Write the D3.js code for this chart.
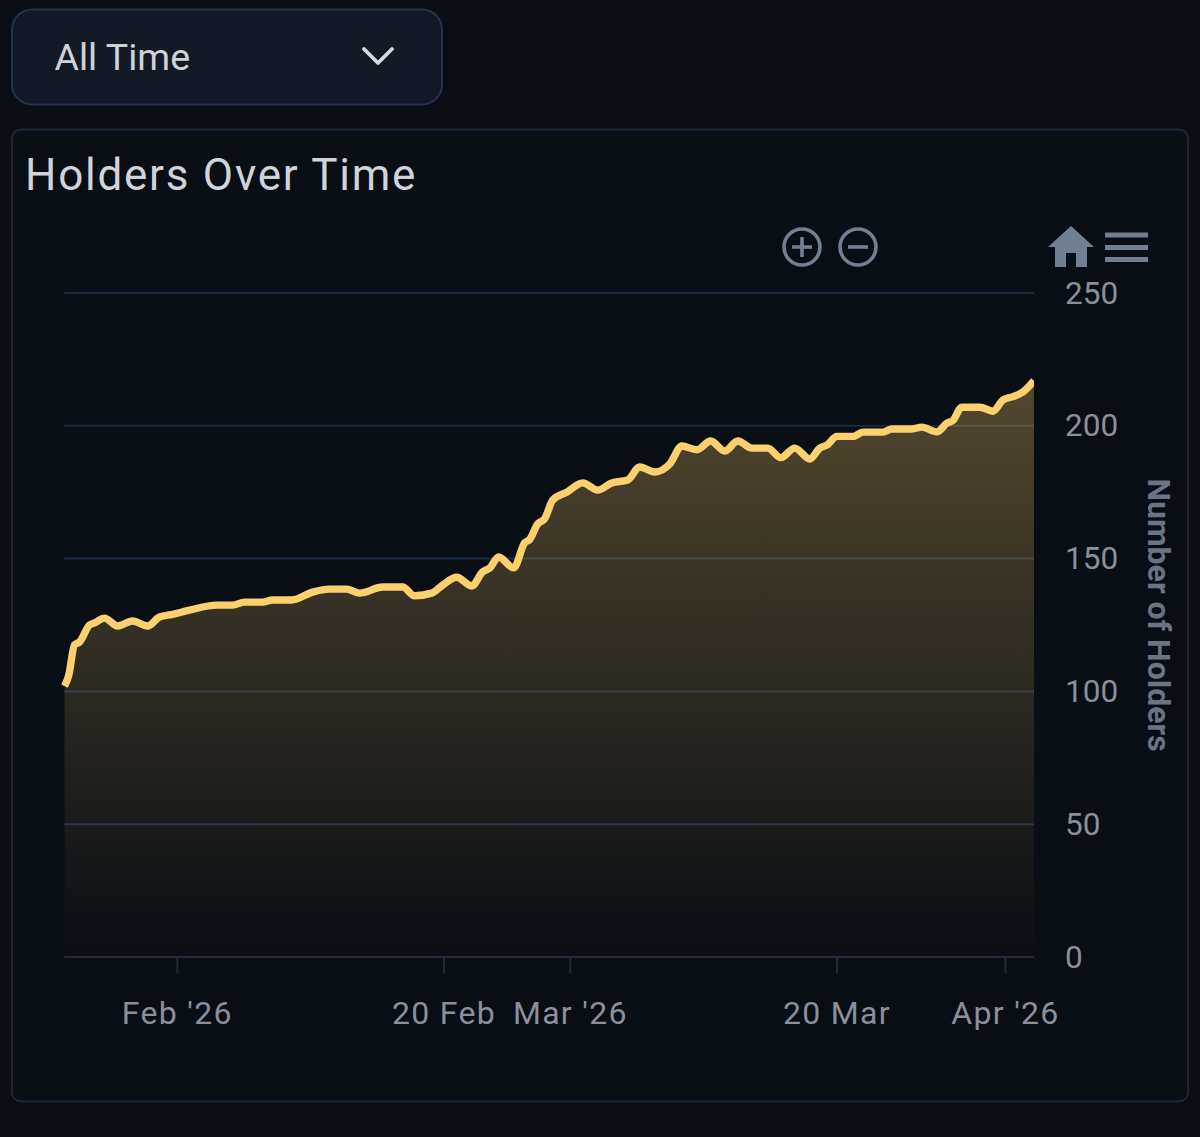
<!DOCTYPE html>
<html>
<head>
<meta charset="utf-8">
<script src="https://cdn.jsdelivr.net/npm/d3@7"></script>
<style>
html,body{margin:0;padding:0;background:#0a0d14;}
svg{display:block;font-family:Roboto,sans-serif;}
</style>
</head>
<body>
<svg id="c" width="1200" height="1137"></svg>
<script>
const startDate = "2026-01-24";
const endDaysAfterStart = 69.07;
const daysAfterStart = [0,.3,.71,1.07,1.78,2.14,2.85,3.78,4.85,5.92,6.77,7.7,8.91,10.83,11.97,12.83,14.11,14.83,16.18,17.68,18.89,20.1,21.03,22.67,24.09,24.95,26.16,26.94,27.94,29.01,29.79,30.29,30.93,32,32.79,33.14,33.71,34.21,34.78,35.78,36.92,37.99,38.99,40.13,40.98,42.05,43.12,43.98,45.05,46.04,47.04,47.97,48.97,50.11,51.03,52.03,53.1,53.81,54.31,55.03,56.17,56.88,58.3,58.95,60.37,61.08,62.15,62.87,63.29,63.93,65.22,66.15,66.86,67.57,68.28,69.07];
const holders = [102,106,117.5,118.6,125,125.8,127.6,124.6,126.5,124.6,128,129,130.6,132.5,132.5,133.6,133.6,134.4,134.4,137.4,138.5,138.5,137,139.3,139.3,136,137,140,143,139.7,145,146.4,150.6,146.5,156,157.2,163,165,172,175,178.5,175.8,178.5,179.6,184.5,182.6,185.6,192.4,191,194.3,190.5,194.3,191.6,191.6,188,191.6,187.5,191.6,192.7,196,196,197.6,197.6,198.8,198.8,199.5,197.7,201,202,207,207,205.5,209.7,211,212.7,217];
const yTicks = [0,50,100,150,200,250];
const xTickDates = ["2026-02-01","2026-02-20","2026-03-01","2026-03-20","2026-04-01"];
const xTickLabels = ["Feb '26","20 Feb","Mar '26","20 Mar","Apr '26"];
const titleText = "Holders Over Time";
const rangeText = "All Time";
const yAxisTitle = "Number of Holders";

const svg = d3.select("#c");
const DAY = 864e5;
const start = new Date(startDate + "T00:00:00Z");
const dates = daysAfterStart.map(d => new Date(+start + d * DAY));
const points = dates.map((d, i) => ({date: d, value: holders[i]}));

const x = d3.scaleUtc().domain([start, new Date(+start + endDaysAfterStart * DAY)]).range([64.5, 1034]);
const y = d3.scaleLinear().domain([0, 250]).range([957, 293]);

// Dropdown
svg.append("rect").attr("x",12).attr("y",9.5).attr("width",430).attr("height",95).attr("rx",20)
  .attr("fill","#131a26").attr("stroke","#243352").attr("stroke-width",2);
svg.append("text").attr("x",54.5).attr("y",70).attr("font-size",37.5).attr("fill","#cfd2d9").text(rangeText);
svg.append("path").attr("d","M364 49L378 63L392 49").attr("fill","none").attr("stroke","#d5d8de")
  .attr("stroke-width",3.8).attr("stroke-linecap","round").attr("stroke-linejoin","round");

// Panel
svg.append("rect").attr("x",12).attr("y",129.5).attr("width",1176).attr("height",972).attr("rx",9)
  .attr("fill","#090d14").attr("stroke","#1c2638").attr("stroke-width",2);
svg.append("text").attr("x",25).attr("y",190).attr("font-size",44).attr("letter-spacing",1.75)
  .attr("fill","#d0d3da").text(titleText);

// Toolbar
const tool = "#727f92";
[[802,"plus"],[858,"minus"]].forEach(([cx,k]) => {
  svg.append("circle").attr("cx",cx).attr("cy",247).attr("r",18).attr("fill","none").attr("stroke",tool).attr("stroke-width",3.6);
  svg.append("path").attr("d", k==="plus" ? `M${cx-10} 247H${cx+10}M${cx} 237V257` : `M${cx-10} 247H${cx+10}`)
    .attr("stroke",tool).attr("stroke-width",3.6);
});
svg.append("path").attr("fill",tool)
  .attr("d","M1071 226L1094 247H1087V267H1076V253H1066V267H1055V247H1048Z");
[235,247.5,259.5].forEach(yy => svg.append("rect").attr("x",1105).attr("y",yy-2.5).attr("width",43).attr("height",5).attr("fill",tool));

// Grid
svg.append("g").selectAll("line").data(yTicks).join("line")
  .attr("x1",64.5).attr("x2",1034).attr("y1",d=>y(d)).attr("y2",d=>y(d))
  .attr("stroke","#182a42").attr("stroke-width",2);

// Area
const defs = svg.append("defs");
const areaTop = y(d3.max(holders));
const grad = defs.append("linearGradient").attr("id","fade").attr("gradientUnits","userSpaceOnUse")
  .attr("x1",0).attr("x2",0).attr("y1",areaTop).attr("y2",y(0));
grad.append("stop").attr("offset",0).attr("stop-color","#fed16e").attr("stop-opacity",.3);
grad.append("stop").attr("offset",1).attr("stop-color","#fed16e").attr("stop-opacity",.005);

svg.append("path").datum(points).attr("fill","url(#fade)")
  .attr("d",d3.area().x(d=>x(d.date)).y0(y(0)).y1(d=>y(d.value)));
defs.append("clipPath").attr("id","plot").append("rect").attr("x",60).attr("y",280).attr("width",974).attr("height",690);
svg.append("path").datum(points).attr("fill","none").attr("stroke","#fdd06e").attr("stroke-width",7.4)
  .attr("stroke-linejoin","round").attr("clip-path","url(#plot)")
  .attr("d",d3.line().curve(d3.curveMonotoneX).x(d=>x(d.date)).y(d=>y(d.value)));

// X axis
const xAxis = d3.axisBottom(x)
  .tickValues(xTickDates.map(d=>new Date(d+"T00:00:00Z")))
  .tickFormat((d,i)=>xTickLabels[i]).tickSize(16).tickPadding(28);
const gx = svg.append("g").attr("transform",`translate(0,${y(0)})`).call(xAxis);
gx.select(".domain").attr("stroke","#1f2a3c").attr("stroke-width",2).attr("d","M64.5 0H1034");
gx.selectAll(".tick line").attr("stroke","#1f2a3c").attr("stroke-width",2);
gx.selectAll("text").attr("font-size",32).attr("letter-spacing",1.3).attr("font-family","Roboto,sans-serif").attr("fill","#8b8f9c");

// Y axis
const yAxis = d3.axisRight(y).tickValues(yTicks).tickSize(0).tickPadding(31);
const gy = svg.append("g").attr("transform","translate(1034,0)").call(yAxis);
gy.select(".domain").remove();
gy.selectAll("text").attr("font-size",31.5).attr("font-family","Roboto,sans-serif").attr("fill","#8b8f9c");

svg.append("text").attr("transform","translate(1148,615) rotate(90)").attr("text-anchor","middle")
  .attr("font-size",32).attr("font-weight",700).attr("fill","#6c7382").text(yAxisTitle);
</script>
</body>
</html>
